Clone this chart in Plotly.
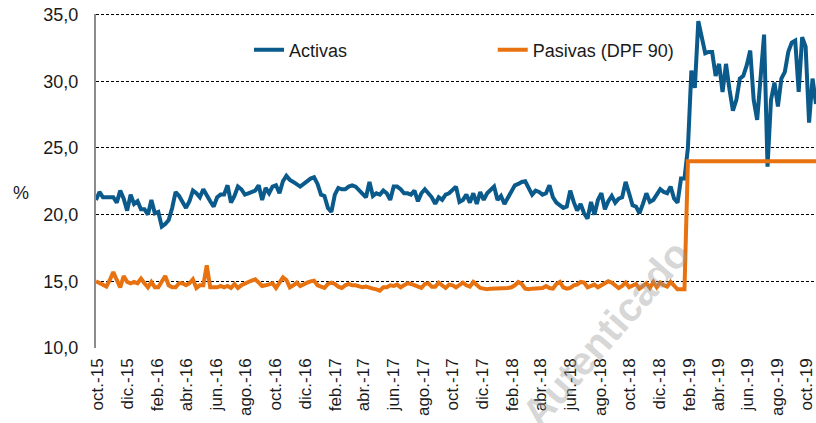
import pandas as pd
import plotly.graph_objects as go

# ---------------- data ----------------
start_date = "2015-09-27"
end_date = "2019-10-20"
n_points = 209

activas = [
    21.1, 21.7, 21.3, 21.3, 21.35, 21.3, 20.9, 21.8, 21.2, 20.3,
    21.5, 20.8, 21.0, 20.4, 20.4, 20.0, 21.1, 20.1, 20.2, 19.1,
    19.3, 19.6, 20.5, 21.7, 21.4, 21.0, 20.5, 21.0, 21.8, 21.6,
    21.3, 21.9, 21.4, 21.0, 20.6, 21.3, 21.5, 21.5, 22.2, 20.9,
    21.4, 22.1, 21.9, 21.5, 21.6, 21.7, 21.8, 22.2, 21.1, 22.0,
    21.6, 22.1, 22.2, 21.6, 22.5, 22.9, 22.6, 22.45, 22.3, 22.1,
    22.3, 22.5, 22.7, 22.8, 22.3, 21.5, 21.4, 20.5, 20.2, 21.5,
    22.0, 21.9, 21.9, 22.1, 22.2, 22.1, 21.8, 21.5, 21.3, 22.45,
    21.4, 21.6, 21.5, 21.8, 21.6, 21.1, 22.1, 22.1, 21.9, 21.6,
    21.6, 21.5, 21.8, 21.0, 21.6, 21.9, 21.6, 21.3, 20.8, 21.3,
    21.1, 21.5, 21.6, 21.9, 22.1, 20.95, 21.1, 21.5, 20.9, 21.6,
    20.8, 21.7, 21.1, 21.6, 21.9, 22.1, 21.1, 21.4, 20.8, 21.3,
    21.8, 22.2, 22.3, 22.45, 22.5, 22.0, 21.5, 21.8, 21.7, 21.5,
    21.6, 22.2, 21.3, 20.9, 20.7, 20.5, 20.6, 21.8, 20.95, 20.3,
    20.8, 20.1, 19.7, 20.95, 20.0, 21.1, 21.6, 20.4, 21.0, 21.4,
    20.9, 21.2, 21.3, 22.45, 21.6, 20.7, 20.6, 20.1, 20.8, 21.6,
    20.95, 21.1, 21.5, 21.9, 21.7, 21.6, 22.1, 21.2, 20.9, 22.7,
    22.7, 25.0, 30.8, 29.5, 34.5, 33.4, 32.1, 32.2, 32.2, 30.4,
    31.3, 29.2, 31.3, 29.4, 27.8, 28.6, 30.2, 30.4, 31.2, 32.3,
    28.6, 27.1, 30.3, 33.5, 23.6, 28.6, 29.9, 28.1, 30.2, 30.7,
    32.2, 32.9, 33.05, 29.2, 33.3, 32.6, 26.9, 30.2, 28.3,
]

pasivas = [
    15.0, 14.85, 14.7, 14.6, 15.1, 15.7, 15.1, 14.55, 15.4, 14.95,
    14.85, 14.95, 14.85, 15.2, 14.85, 14.55, 14.95, 14.55, 14.55, 14.95,
    15.4, 14.7, 14.55, 14.55, 14.85, 14.85, 14.7, 14.85, 15.15, 14.5,
    14.7, 14.7, 16.2, 14.55, 14.55, 14.55, 14.65, 14.55, 14.65, 14.5,
    14.8, 14.5, 14.7, 14.85, 14.95, 15.05, 15.15, 14.9, 14.65, 14.7,
    14.8, 14.85, 14.5, 14.85, 15.3, 15.1, 14.55, 14.7, 14.9, 14.65,
    14.8, 14.9, 15.0, 15.05, 14.7, 14.6, 14.5, 14.8, 14.9, 14.8,
    14.6, 14.5, 14.7, 14.8, 14.7, 14.7, 14.65, 14.55, 14.6, 14.5,
    14.45, 14.4, 14.3, 14.55, 14.55, 14.7, 14.65, 14.75, 14.55, 14.7,
    14.85, 14.8, 14.7, 14.55, 14.5, 14.8, 14.85, 14.6, 14.6, 14.9,
    14.7, 14.5, 14.75, 14.7, 14.55, 14.7, 14.9, 14.7, 14.6, 14.95,
    14.7, 14.5, 14.45, 14.4, 14.45, 14.45, 14.45, 14.5, 14.5, 14.5,
    14.55, 14.7, 14.95, 14.8, 14.45, 14.4, 14.45, 14.45, 14.45, 14.5,
    14.65, 14.5, 14.45, 14.8, 14.95, 14.55, 14.45, 14.5, 14.7, 14.75,
    14.95, 14.9, 14.55, 14.65, 14.75, 14.55, 14.7, 14.9, 15.0, 14.9,
    14.7, 14.5, 14.65, 14.9, 14.55, 14.7, 14.8, 14.45, 14.65, 14.85,
    14.5, 14.95, 14.55, 14.9, 14.7, 14.6, 14.95, 14.65, 14.4, 14.4,
    14.4, 24.0, 24.0, 24.0, 24.0, 24.0, 24.0, 24.0, 24.0, 24.0,
    24.0, 24.0, 24.0, 24.0, 24.0, 24.0, 24.0, 24.0, 24.0, 24.0,
    24.0, 24.0, 24.0, 24.0, 24.0, 24.0, 24.0, 24.0, 24.0, 24.0,
    24.0, 24.0, 24.0, 24.0, 24.0, 24.0, 24.0, 24.0, 24.0,
]

tick_dates = [
    "2015-10-01", "2015-12-01", "2016-02-01", "2016-04-01", "2016-06-01",
    "2016-08-01", "2016-10-01", "2016-12-01", "2017-02-01", "2017-04-01",
    "2017-06-01", "2017-08-01", "2017-10-01", "2017-12-01", "2018-02-01",
    "2018-04-01", "2018-06-01", "2018-08-01", "2018-10-01", "2018-12-01",
    "2019-02-01", "2019-04-01", "2019-06-01", "2019-08-01", "2019-10-01",
]
tick_labels = [
    "oct.-15", "dic.-15", "feb.-16", "abr.-16", "jun.-16",
    "ago.-16", "oct.-16", "dic.-16", "feb.-17", "abr.-17",
    "jun.-17", "ago.-17", "oct.-17", "dic.-17", "feb.-18",
    "abr.-18", "jun.-18", "ago.-18", "oct.-18", "dic.-18",
    "feb.-19", "abr.-19", "jun.-19", "ago.-19", "oct.-19",
]
y_ticks = [10, 15, 20, 25, 30, 35]

dates = pd.date_range(start_date, end_date, periods=n_points)

BLUE = "#0A5A8C"
ORANGE = "#E8720F"
FONT = "Liberation Sans, Arial, sans-serif"

fig = go.Figure()
fig.add_trace(go.Scatter(
    x=dates, y=activas, mode="lines", name="Activas", showlegend=True,
    line=dict(color=BLUE, width=4), legend="legend",
))
fig.add_trace(go.Scatter(
    x=dates, y=pasivas, mode="lines", name="Pasivas (DPF 90)", showlegend=True,
    line=dict(color=ORANGE, width=4), legend="legend2",
))

# top gridline (plotly drops gridlines lying on the plot edge)
fig.add_shape(type="line", xref="paper", yref="y", x0=0, x1=1,
              y0=y_ticks[-1], y1=y_ticks[-1], layer="below",
              line=dict(color="#000000", width=1, dash="3px,2px"))

fig.update_layout(
    width=816, height=423,
    margin=dict(l=96, r=0, t=14, b=75, autoexpand=False),
    paper_bgcolor="white", plot_bgcolor="white",
    showlegend=True,
    separators=",.",
    font=dict(family=FONT, color="#1a1a1a", size=16),
    legend=dict(x=0.2125, y=0.892, xanchor="left", yanchor="middle",
                orientation="h", bgcolor="rgba(0,0,0,0)", visible=True,
                font=dict(size=18, family=FONT, color="#1a1a1a")),
    legend2=dict(x=0.551, y=0.892, xanchor="left", yanchor="middle",
                 orientation="h", bgcolor="rgba(0,0,0,0)", visible=True,
                 font=dict(size=18, family=FONT, color="#1a1a1a")),
    xaxis=dict(
        range=[dates[0], dates[-1]],
        tickmode="array", tickvals=tick_dates, ticktext=tick_labels,
        tickangle=-90, tickfont=dict(size=17, family=FONT, color="#1a1a1a"),
        showgrid=False, showline=False, zeroline=False, ticks="",
        ticklabelstandoff=6, ticklabeloverflow="allow",
    ),
    yaxis=dict(
        range=[10, 35.04], tickmode="array", tickvals=y_ticks, tickformat=".1f",
        tickfont=dict(size=18, family=FONT, color="#1a1a1a"),
        showgrid=True, gridcolor="#000000", gridwidth=1, griddash="3px,2px",
        showline=True, linecolor="#8c8c8c", linewidth=2,
        zeroline=False, ticks="", ticklabelstandoff=12,
        ticklabeloverflow="allow",
    ),
    annotations=[
        dict(text="%", xref="paper", yref="paper", x=(21 - 96) / 720,
             y=(348 - 193) / 334, showarrow=False, xanchor="center",
             yanchor="middle", font=dict(size=18, family=FONT, color="#1a1a1a")),
        dict(text="<b>Documento Autenticado</b>", xref="paper", yref="paper",
             x=0.603, y=-0.216, showarrow=False, textangle=-49,
             xanchor="center", yanchor="middle",
             font=dict(size=40, family=FONT, color="rgba(150,150,150,0.4)")),
    ],
)

fig.write_html(
    "out.html",
    config={"displayModeBar": False},
    post_script="document.body.style.margin='0';document.body.style.padding='0';",
)
